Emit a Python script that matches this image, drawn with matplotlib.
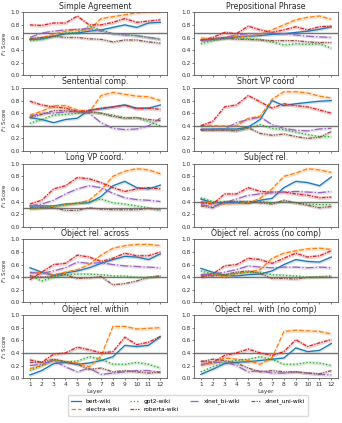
import matplotlib
matplotlib.use("Agg")
import matplotlib.pyplot as plt
import numpy as np

layers = list(range(1, 13))
models = ["bert-wiki", "electra-wiki", "gpt2-wiki", "roberta-wiki", "xlnet_bi-wiki", "xlnet_uni-wiki"]
colors = ["#1f77b4", "#ff7f0e", "#2ca02c", "#d62728", "#9467bd", "#8c564b"]
styles = ["-", "--", ":", (0, (3, 1, 1, 1)), "-.", (0, (3, 1, 1, 1, 1, 1))]
band_sd = [0.025, 0.03, 0.025, 0.03, 0.025, 0.025]

titles = ["Simple Agreement", "Prepositional Phrase", "Sentential comp.", "Short VP coord",
          "Long VP coord.", "Subject rel.", "Object rel. across", "Object rel. across (no comp)",
          "Object rel. within", "Object rel. with (no comp)"]
baselines = [0.67, 0.67, 0.4, 0.4, 0.3, 0.4, 0.4, 0.4, 0.4, 0.4]

simple_agreement = [
    [0.57, 0.58, 0.62, 0.66, 0.67, 0.70, 0.72, 0.76, 0.80, 0.76, 0.83, 0.84],
    [0.58, 0.60, 0.65, 0.70, 0.72, 0.72, 0.90, 0.93, 0.96, 0.99, 1.00, 1.00],
    [0.55, 0.57, 0.62, 0.67, 0.68, 0.78, 0.72, 0.66, 0.65, 0.63, 0.60, 0.57],
    [0.80, 0.79, 0.83, 0.83, 0.94, 0.80, 0.80, 0.84, 0.90, 0.84, 0.86, 0.88],
    [0.60, 0.67, 0.70, 0.72, 0.73, 0.74, 0.70, 0.66, 0.64, 0.63, 0.60, 0.58],
    [0.58, 0.60, 0.62, 0.60, 0.60, 0.58, 0.57, 0.53, 0.56, 0.56, 0.53, 0.51],
]
prepositional_phrase = [
    [0.56, 0.57, 0.59, 0.61, 0.62, 0.63, 0.65, 0.66, 0.68, 0.70, 0.73, 0.77],
    [0.59, 0.58, 0.60, 0.62, 0.62, 0.65, 0.72, 0.80, 0.88, 0.92, 0.94, 0.89],
    [0.50, 0.55, 0.58, 0.60, 0.58, 0.57, 0.53, 0.48, 0.50, 0.49, 0.50, 0.43],
    [0.55, 0.60, 0.68, 0.66, 0.78, 0.72, 0.68, 0.72, 0.77, 0.72, 0.77, 0.78],
    [0.55, 0.57, 0.60, 0.64, 0.66, 0.66, 0.67, 0.66, 0.64, 0.62, 0.61, 0.60],
    [0.56, 0.58, 0.60, 0.57, 0.57, 0.56, 0.55, 0.55, 0.55, 0.53, 0.52, 0.52],
]
sentential_comp = [
    [0.53, 0.50, 0.45, 0.50, 0.52, 0.65, 0.67, 0.70, 0.73, 0.68, 0.68, 0.73],
    [0.57, 0.63, 0.72, 0.72, 0.65, 0.62, 0.88, 0.93, 0.90, 0.87, 0.86, 0.80],
    [0.44, 0.50, 0.57, 0.58, 0.60, 0.62, 0.60, 0.57, 0.53, 0.53, 0.47, 0.40],
    [0.79, 0.73, 0.70, 0.68, 0.63, 0.64, 0.68, 0.70, 0.73, 0.67, 0.68, 0.66],
    [0.55, 0.60, 0.60, 0.62, 0.63, 0.60, 0.45, 0.36, 0.34, 0.35, 0.40, 0.52],
    [0.53, 0.58, 0.64, 0.64, 0.62, 0.62, 0.60, 0.55, 0.52, 0.53, 0.50, 0.48],
]
short_vp_coord = [
    [0.34, 0.35, 0.35, 0.35, 0.38, 0.50, 0.80, 0.72, 0.75, 0.77, 0.79, 0.80],
    [0.41, 0.40, 0.40, 0.40, 0.52, 0.55, 0.82, 0.94, 0.94, 0.92, 0.87, 0.84],
    [0.34, 0.34, 0.34, 0.33, 0.36, 0.42, 0.36, 0.34, 0.30, 0.26, 0.23, 0.23],
    [0.40, 0.47, 0.70, 0.73, 0.88, 0.78, 0.68, 0.75, 0.72, 0.70, 0.65, 0.60],
    [0.35, 0.34, 0.35, 0.45, 0.50, 0.54, 0.42, 0.36, 0.33, 0.32, 0.35, 0.36],
    [0.33, 0.33, 0.33, 0.32, 0.37, 0.28, 0.25, 0.27, 0.23, 0.20, 0.22, 0.31],
]
long_vp_coord = [
    [0.33, 0.33, 0.33, 0.36, 0.37, 0.38, 0.48, 0.65, 0.72, 0.62, 0.60, 0.66],
    [0.30, 0.30, 0.32, 0.35, 0.37, 0.42, 0.58, 0.80, 0.88, 0.92, 0.90, 0.84],
    [0.28, 0.30, 0.32, 0.35, 0.38, 0.40, 0.44, 0.38, 0.36, 0.33, 0.30, 0.26],
    [0.36, 0.42, 0.60, 0.65, 0.78, 0.76, 0.70, 0.62, 0.56, 0.60, 0.62, 0.60],
    [0.33, 0.36, 0.42, 0.52, 0.60, 0.65, 0.62, 0.53, 0.46, 0.43, 0.42, 0.40],
    [0.30, 0.31, 0.30, 0.26, 0.26, 0.30, 0.28, 0.27, 0.27, 0.27, 0.29, 0.28],
]
subject_rel = [
    [0.44, 0.38, 0.38, 0.38, 0.37, 0.42, 0.45, 0.62, 0.72, 0.70, 0.65, 0.79],
    [0.40, 0.38, 0.36, 0.37, 0.38, 0.45, 0.60, 0.80, 0.85, 0.92, 0.90, 0.86],
    [0.46, 0.40, 0.40, 0.40, 0.40, 0.40, 0.38, 0.40, 0.38, 0.36, 0.35, 0.35],
    [0.38, 0.36, 0.52, 0.52, 0.62, 0.56, 0.55, 0.55, 0.52, 0.50, 0.46, 0.47],
    [0.35, 0.32, 0.38, 0.44, 0.50, 0.52, 0.54, 0.55, 0.56, 0.55, 0.54, 0.56],
    [0.33, 0.30, 0.40, 0.40, 0.40, 0.38, 0.36, 0.42, 0.38, 0.34, 0.30, 0.32],
]
object_rel_across = [
    [0.55, 0.48, 0.43, 0.47, 0.50, 0.55, 0.62, 0.68, 0.73, 0.72, 0.68, 0.77],
    [0.46, 0.48, 0.44, 0.48, 0.52, 0.60, 0.75, 0.86, 0.90, 0.92, 0.92, 0.90],
    [0.43, 0.34, 0.40, 0.44, 0.45, 0.45, 0.44, 0.42, 0.42, 0.40, 0.40, 0.42],
    [0.36, 0.48, 0.60, 0.62, 0.75, 0.72, 0.65, 0.70, 0.78, 0.74, 0.74, 0.80],
    [0.48, 0.46, 0.50, 0.55, 0.64, 0.62, 0.63, 0.60, 0.58, 0.57, 0.56, 0.55],
    [0.42, 0.40, 0.42, 0.44, 0.38, 0.39, 0.41, 0.28, 0.30, 0.34, 0.40, 0.42],
]
object_rel_across_nc = [
    [0.54, 0.48, 0.43, 0.42, 0.44, 0.45, 0.50, 0.60, 0.68, 0.65, 0.64, 0.72],
    [0.44, 0.46, 0.40, 0.46, 0.48, 0.52, 0.70, 0.78, 0.82, 0.85, 0.86, 0.84],
    [0.50, 0.45, 0.44, 0.46, 0.48, 0.48, 0.44, 0.43, 0.42, 0.40, 0.41, 0.42],
    [0.40, 0.45, 0.58, 0.60, 0.70, 0.68, 0.62, 0.70, 0.78, 0.72, 0.74, 0.82],
    [0.44, 0.45, 0.48, 0.52, 0.58, 0.56, 0.55, 0.56, 0.56, 0.55, 0.56, 0.55],
    [0.42, 0.42, 0.44, 0.48, 0.50, 0.46, 0.38, 0.38, 0.37, 0.40, 0.40, 0.40],
]
object_rel_within = [
    [0.05, 0.12, 0.23, 0.25, 0.22, 0.24, 0.28, 0.34, 0.52, 0.50, 0.52, 0.66],
    [0.15, 0.20, 0.30, 0.26, 0.24, 0.18, 0.35, 0.82, 0.82, 0.78, 0.79, 0.80],
    [0.12, 0.20, 0.28, 0.26, 0.27, 0.34, 0.30, 0.22, 0.22, 0.25, 0.22, 0.16],
    [0.29, 0.25, 0.38, 0.40, 0.49, 0.45, 0.40, 0.42, 0.65, 0.53, 0.57, 0.66],
    [0.20, 0.22, 0.28, 0.18, 0.10, 0.16, 0.06, 0.08, 0.10, 0.12, 0.12, 0.09],
    [0.25, 0.25, 0.30, 0.26, 0.22, 0.14, 0.16, 0.10, 0.12, 0.10, 0.08, 0.10],
]
object_rel_with_nc = [
    [0.06, 0.14, 0.23, 0.25, 0.26, 0.28, 0.30, 0.32, 0.48, 0.42, 0.44, 0.55],
    [0.20, 0.24, 0.32, 0.30, 0.28, 0.22, 0.32, 0.74, 0.76, 0.75, 0.74, 0.70],
    [0.10, 0.18, 0.25, 0.28, 0.30, 0.34, 0.30, 0.22, 0.22, 0.25, 0.24, 0.20],
    [0.27, 0.25, 0.36, 0.40, 0.46, 0.40, 0.36, 0.42, 0.61, 0.50, 0.56, 0.61],
    [0.22, 0.24, 0.26, 0.20, 0.10, 0.12, 0.08, 0.08, 0.10, 0.08, 0.06, 0.05],
    [0.26, 0.30, 0.28, 0.24, 0.16, 0.10, 0.12, 0.10, 0.10, 0.08, 0.07, 0.12],
]

panels = [simple_agreement, prepositional_phrase, sentential_comp, short_vp_coord,
          long_vp_coord, subject_rel, object_rel_across, object_rel_across_nc,
          object_rel_within, object_rel_with_nc]

fig, axes = plt.subplots(5, 2, figsize=(3.42, 4.23), dpi=100, sharex=True)
fig.subplots_adjust(left=0.068, right=0.988, top=0.971, bottom=0.106, wspace=0.19, hspace=0.2)

handles = []
for i, ax in enumerate(axes.flat):
    data = panels[i]
    for m in range(len(models)):
        y = np.array(data[m])
        ln, = ax.plot(layers, y, color=colors[m], linestyle=styles[m], lw=0.9, label=models[m])
        ax.fill_between(layers, y - band_sd[m], y + band_sd[m], color=colors[m], alpha=0.2, lw=0)
        if i == 0:
            handles.append(ln)
    ax.axhline(baselines[i], color="0.45", lw=1.0, zorder=1)
    ax.set_ylim(0, 1)
    ax.set_yticks([0, 0.2, 0.4, 0.6, 0.8, 1.0])
    ax.set_title(titles[i], fontsize=5.6, pad=2.5, color="0.15")
    ax.tick_params(length=1.5, width=0.5, pad=1, colors="0.3", labelcolor="0.2", labelsize=4.2)
    for s in ax.spines.values():
        s.set_linewidth(0.6)
        s.set_color("0.35")
    if i % 2 == 0:
        ax.set_ylabel("$F_1$ Score", fontsize=4, labelpad=1, color="0.2")
    if i >= 8:
        ax.set_xticks(layers)
        ax.set_xlabel("Layer", fontsize=4.2, labelpad=2, color="0.2")

fig.legend(handles, models, loc="lower center", bbox_to_anchor=(0.55, 0.01), ncol=4,
           fontsize=4.2, frameon=True, handlelength=1.6, columnspacing=1.8,
           borderpad=0.6, labelspacing=0.6, framealpha=1, edgecolor="0.85")

fig.savefig("out.png", dpi=100)
